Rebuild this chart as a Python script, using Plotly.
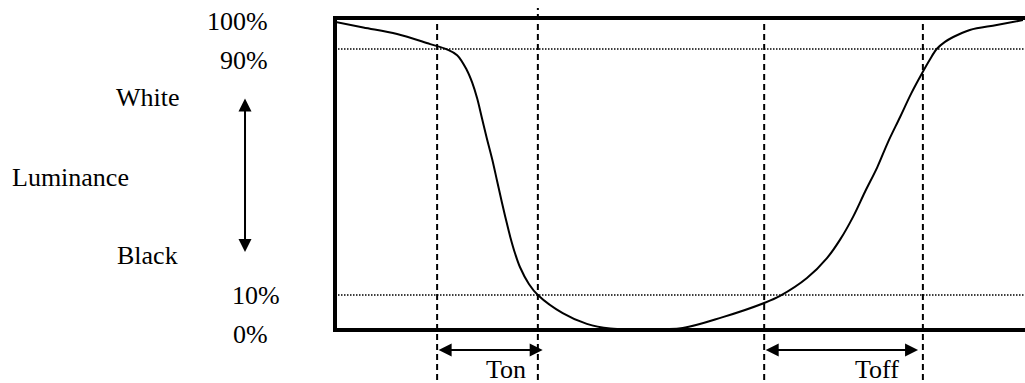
import plotly.graph_objects as go

# luminance response curve (time in arbitrary units, luminance in %)
time = [0.0, 4.1, 9.0, 13.8, 16.2, 17.7, 19.1, 19.9, 20.6, 21.3, 22.0, 22.8, 23.5, 24.2, 24.8, 25.4, 26.1, 26.8,
        28.1, 29.4, 33.0, 36.5, 39.9, 44.9, 50.4, 56.2, 62.2, 64.5, 68.4, 71.3, 73.2, 75.1, 76.8, 78.6, 80.1,
        81.9, 83.5, 85.1, 86.2, 87.2, 88.4, 89.6, 92.0, 95.9, 99.7]
luminance = [98.8, 97.0, 94.9, 91.6, 89.9, 88.0, 83.2, 79.0, 74.0, 67.5, 61.0, 54.0, 47.0, 40.0, 34.3, 28.9, 23.5, 19.1,
             13.6, 10.0, 4.1, 0.6, -0.9, -1.1, -0.7, 2.8, 7.4, 9.7, 15.5, 22.0, 28.0, 35.5, 43.5, 51.6, 59.5,
             67.9, 75.5, 82.2, 86.5, 90.0, 92.3, 93.9, 96.2, 97.8, 99.4]

levels = [90, 10]                                   # dotted threshold lines
markTimes = [14.8, 29.4, 62.2, 85.2]                # dashed vertical markers
tonSpan = [14.8, 30.1]
toffSpan = [62.2, 84.5]
levelLabels = ["100%", "90%", "10%", "0%"]
sideLabels = ["White", "Luminance", "Black"]
spanLabels = ["Ton", "Toff"]

FONT = "Liberation Serif"
FS = 26

fig = go.Figure()
fig.add_trace(go.Scatter(x=time, y=luminance, mode="lines",
                         line=dict(color="black", width=2, shape="spline", smoothing=1),
                         hoverinfo="skip", showlegend=False))

# dotted 90% / 10% lines
for lv in levels:
    fig.add_shape(type="line", xref="x", yref="y", x0=0, x1=100, y0=lv, y1=lv,
                  line=dict(color="black", width=1.5, dash="1.5px,1.5px"))

# dashed verticals (second one pokes above the box)
tops = [1.0, 1.039, 1.0, 1.0]
for t, top in zip(markTimes, tops):
    fig.add_shape(type="line", xref="x", yref="paper", x0=t, x1=t, y0=-0.169, y1=top,
                  line=dict(color="black", width=2, dash="6px,4px"))

# double headed arrows for Ton / Toff
for span in [tonSpan, toffSpan]:
    fig.add_annotation(xref="x", yref="paper", x=span[1], y=-0.0714, axref="x", ax=span[0], ayref="pixel", ay=0,
                       text="", showarrow=True, arrowhead=2, startarrowhead=2, arrowside="end+start",
                       arrowsize=1.3, startarrowsize=1.3, arrowwidth=2, arrowcolor="black",
                       standoff=0, startstandoff=0)

# vertical luminance arrow on the left
fig.add_annotation(xref="paper", yref="paper", x=-0.1337, y=0.247, ax=0, ay=-155,
                   text="", showarrow=True, arrowhead=2, startarrowhead=2, arrowside="end+start",
                   arrowsize=1.3, startarrowsize=1.3, arrowwidth=2, arrowcolor="black",
                   standoff=0, startstandoff=0)

# level labels
lvX = [-0.0974, -0.0974, -0.0799, -0.0974]
lvY = [0.995, 0.870, 0.107, -0.0195]
for txt, lx, ly in zip(levelLabels, lvX, lvY):
    fig.add_annotation(xref="paper", yref="paper", x=lx, y=ly, text=txt, showarrow=False,
                       xanchor="right", yanchor="middle", font=dict(family=FONT, size=FS, color="black"))

sdX = [-0.2747, -0.388, -0.276]
sdY = [0.75, 0.490, 0.237]
for txt, lx, ly in zip(sideLabels, sdX, sdY):
    fig.add_annotation(xref="paper", yref="paper", x=lx, y=ly, text=txt, showarrow=False,
                       xanchor="center", yanchor="middle", font=dict(family=FONT, size=FS, color="black"))

spX = [24.8, 78.5]
for txt, lx in zip(spanLabels, spX):
    fig.add_annotation(xref="x", yref="paper", x=lx, y=-0.136, text=txt, showarrow=False,
                       xanchor="center", yanchor="middle", font=dict(family=FONT, size=FS, color="black"))

fig.update_xaxes(range=[0.29, 100], showline=True, linewidth=4, linecolor="black", mirror=True,
                 showgrid=False, zeroline=False, showticklabels=False, ticks="")
fig.update_yaxes(range=[-0.73, 99.43], showline=True, linewidth=4, linecolor="black", mirror=False,
                 showgrid=False, zeroline=False, showticklabels=False, ticks="")

fig.update_layout(width=1025, height=383, margin=dict(l=337, r=0, t=20, b=55),
                  plot_bgcolor="white", paper_bgcolor="white", showlegend=False)

# drop the default page margin so the figure sits at the window corner
fig.write_html("out.html", config={"displayModeBar": False},
               post_script="document.body.style.margin='0';")
